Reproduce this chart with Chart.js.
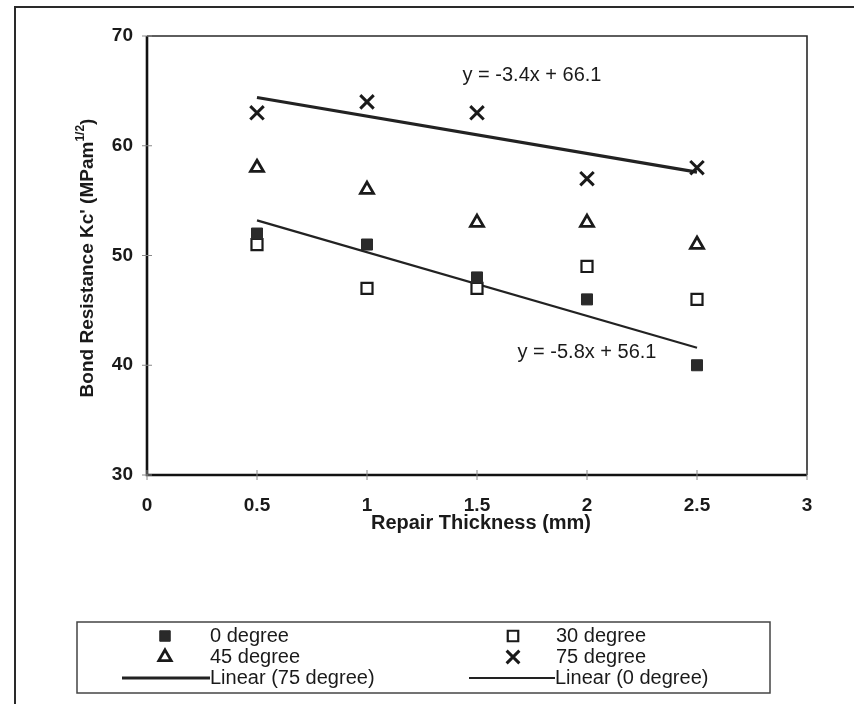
<!DOCTYPE html>
<html>
<head>
<meta charset="utf-8">
<script src="https://cdn.jsdelivr.net/npm/chart.js@4/dist/chart.umd.min.js"></script>
<style>
  html, body { margin: 0; padding: 0; background: #ffffff; }
  #wrap { width: 854px; height: 704px; position: relative; }
</style>
</head>
<body>
<div id="wrap"><canvas id="c" width="854" height="704"></canvas></div>
<script>
// Repair thickness (mm) for every series
const thickness = [0.5, 1, 1.5, 2, 2.5];

// Bond resistance Kc' (MPa·m^1/2) per orientation
const deg0  = [52, 51, 48, 46, 40];
const deg30 = [51, 47, 47, 49, 46];
const deg45 = [58, 56, 53, 53, 51];
const deg75 = [63, 64, 63, 57, 58];

// Linear trend lines as printed on the chart: y = slope * x + intercept
const trendNames      = ['Linear (75 degree)', 'Linear (0 degree)'];
const trendSlopes     = [-3.4, -5.8];
const trendIntercepts = [66.1, 56.1];
const trendLabels     = ['y = -3.4x + 66.1', 'y = -5.8x + 56.1'];

// Axis ticks
const xTicks = [0, 0.5, 1, 1.5, 2, 2.5, 3];
const yTicks = [30, 40, 50, 60, 70];

const FONT = '"Liberation Sans", Arial, sans-serif';
const INK = '#1a1a1a';

const pts = ys => thickness.map((x, i) => ({ x: x, y: ys[i] }));
const trendPts = k => [thickness[0], thickness[thickness.length - 1]].map(x => ({
  x: x, y: +(trendSlopes[k] * x + trendIntercepts[k]).toFixed(2)
}));

const datasets = [
  { label: '0 degree', data: pts(deg0), pointStyle: 'rect', pointRadius: 7.8,
    backgroundColor: '#2a2a2a', borderColor: '#2a2a2a', borderWidth: 1, showLine: false },
  { label: '30 degree', data: pts(deg30), pointStyle: 'rect', pointRadius: 7.8,
    backgroundColor: '#ffffff', borderColor: INK, borderWidth: 2.2, showLine: false },
  { label: '45 degree', data: pts(deg45), pointStyle: 'triangle', pointRadius: 7.5,
    backgroundColor: '#ffffff', borderColor: INK, borderWidth: 2.8, showLine: false },
  { label: '75 degree', data: pts(deg75), pointStyle: 'crossRot', pointRadius: 9.5,
    backgroundColor: INK, borderColor: INK, borderWidth: 3, showLine: false },
  { label: trendNames[0], data: trendPts(0), type: 'line', showLine: true, pointRadius: 0,
    borderColor: '#222222', borderWidth: 3.2, fill: false },
  { label: trendNames[1], data: trendPts(1), type: 'line', showLine: true, pointRadius: 0,
    borderColor: '#222222', borderWidth: 2.2, fill: false }
];

// Plot frame, crossing tick marks, equations, axis titles, legend and page frame
const decorations = {
  id: 'decorations',
  afterDraw(chart) {
    const ctx = chart.ctx;
    const a = chart.chartArea;
    const xs = chart.scales.x, ys = chart.scales.y;
    ctx.save();

    // page frame (top and left edges)
    ctx.strokeStyle = '#2a2a2a';
    ctx.lineWidth = 2;
    ctx.beginPath();
    ctx.moveTo(15, 704); ctx.lineTo(15, 7); ctx.lineTo(854, 7);
    ctx.stroke();

    // plot frame
    ctx.strokeStyle = '#2a2a2a';
    ctx.lineWidth = 1.6;
    ctx.beginPath();
    ctx.moveTo(a.left, a.top); ctx.lineTo(a.right, a.top); ctx.lineTo(a.right, a.bottom);
    ctx.stroke();
    ctx.strokeStyle = '#111';
    ctx.lineWidth = 2.6;
    ctx.beginPath();
    ctx.moveTo(a.left, a.top); ctx.lineTo(a.left, a.bottom); ctx.lineTo(a.right, a.bottom);
    ctx.stroke();

    // tick marks crossing the axes
    ctx.strokeStyle = '#888';
    ctx.lineWidth = 1;
    xTicks.forEach(v => {
      const px = xs.getPixelForValue(v);
      ctx.beginPath(); ctx.moveTo(px, a.bottom - 5); ctx.lineTo(px, a.bottom + 5); ctx.stroke();
    });
    yTicks.forEach(v => {
      const py = ys.getPixelForValue(v);
      ctx.beginPath(); ctx.moveTo(a.left - 5, py); ctx.lineTo(a.left + 5, py); ctx.stroke();
    });

    // trend equations
    ctx.fillStyle = INK;
    ctx.font = '20px ' + FONT;
    ctx.textAlign = 'center';
    ctx.textBaseline = 'middle';
    ctx.fillText(trendLabels[0], xs.getPixelForValue(1.75), ys.getPixelForValue(66.4));
    ctx.fillText(trendLabels[1], xs.getPixelForValue(2.0), ys.getPixelForValue(41.2));

    // x-axis title
    ctx.font = 'bold 20px ' + FONT;
    ctx.fillText('Repair Thickness (mm)', (a.left + a.right) / 2 + 4, 523);

    // y-axis title with superscript
    ctx.save();
    ctx.translate(88, 258);
    ctx.rotate(-Math.PI / 2);
    const main = "Bond Resistance Kc' (MPam";
    const sup = '1/2';
    ctx.font = 'bold 19px ' + FONT;
    const wMain = ctx.measureText(main).width;
    const wClose = ctx.measureText(')').width;
    ctx.font = 'bold 12px ' + FONT;
    const wSup = ctx.measureText(sup).width;
    const total = wMain + wSup + wClose;
    const x0 = -total / 2;
    ctx.textAlign = 'left';
    ctx.textBaseline = 'middle';
    ctx.font = 'bold 19px ' + FONT;
    ctx.fillText(main, x0, 0);
    ctx.font = 'bold 12px ' + FONT;
    ctx.fillText(sup, x0 + wMain, -7);
    ctx.font = 'bold 19px ' + FONT;
    ctx.fillText(')', x0 + wMain + wSup, 0);
    ctx.restore();

    // legend box
    const L = { left: 77, top: 622, right: 770, bottom: 693 };
    ctx.strokeStyle = '#444';
    ctx.lineWidth = 1.5;
    ctx.strokeRect(L.left, L.top, L.right - L.left, L.bottom - L.top);

    const rows = [636, 657, 678];
    const cols = [{ mark: 165, text: 210, lineFrom: 122, lineTo: 210 },
                  { mark: 513, text: 556, lineFrom: 469, lineTo: 555 }];
    const entries = [
      { ds: 0, col: 0, row: 0 }, { ds: 1, col: 1, row: 0 },
      { ds: 2, col: 0, row: 1 }, { ds: 3, col: 1, row: 1 },
      { ds: 4, col: 0, row: 2 }, { ds: 5, col: 1, row: 2 }
    ];
    ctx.font = '20px ' + FONT;
    ctx.textBaseline = 'middle';
    ctx.textAlign = 'left';
    entries.forEach(e => {
      const d = chart.data.datasets[e.ds];
      const c = cols[e.col];
      const y = rows[e.row];
      if (d.type === 'line') {
        ctx.strokeStyle = d.borderColor;
        ctx.lineWidth = d.borderWidth;
        ctx.beginPath(); ctx.moveTo(c.lineFrom, y); ctx.lineTo(c.lineTo, y); ctx.stroke();
        ctx.fillStyle = INK;
        ctx.fillText(d.label, c.lineTo, y);
      } else {
        ctx.fillStyle = d.backgroundColor;
        ctx.strokeStyle = d.borderColor;
        ctx.lineWidth = d.borderWidth;
        Chart.helpers.drawPoint(ctx, {
          pointStyle: d.pointStyle, radius: d.pointRadius * 0.95, borderWidth: d.borderWidth, rotation: 0
        }, c.mark, y);
        ctx.fillStyle = INK;
        ctx.fillText(d.label, c.text, y);
      }
    });
    ctx.restore();
  }
};

new Chart(document.getElementById('c'), {
  type: 'scatter',
  data: { datasets: datasets },
  options: {
    responsive: false,
    animation: false,
    events: [],
    layout: { padding: { left: 0, top: 36, right: 47, bottom: 0 } },
    plugins: { legend: { display: false }, tooltip: { enabled: false } },
    scales: {
      x: {
        type: 'linear', min: 0, max: 3,
        afterFit: s => { s.height = 229; },
        afterBuildTicks: s => { s.ticks = xTicks.map(v => ({ value: v })); },
        grid: { display: false, drawTicks: false },
        border: { display: false },
        ticks: { color: INK, padding: 19, callback: v => String(v),
                 font: { family: FONT, size: 19, weight: 'bold' } }
      },
      y: {
        type: 'linear', min: 30, max: 70,
        afterFit: s => { s.width = 147; },
        afterBuildTicks: s => { s.ticks = yTicks.map(v => ({ value: v })); },
        grid: { display: false, drawTicks: false },
        border: { display: false },
        ticks: { color: INK, padding: 14, callback: v => String(v),
                 font: { family: FONT, size: 19, weight: 'bold' } }
      }
    }
  },
  plugins: [decorations]
});
</script>
</body>
</html>
